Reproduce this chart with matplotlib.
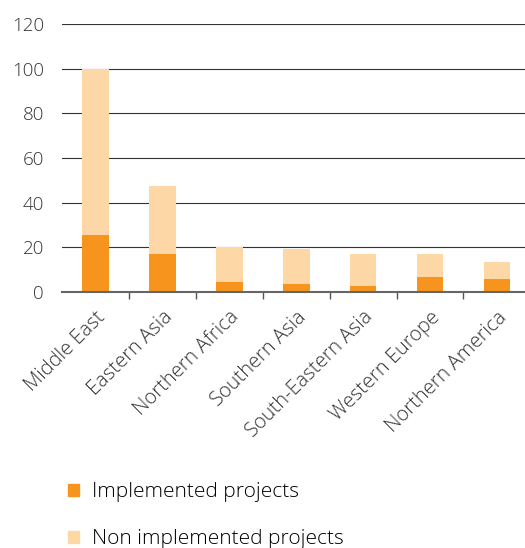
import matplotlib
matplotlib.use("Agg")
import matplotlib.pyplot as plt
from matplotlib.patches import Patch
import numpy as np

regions = [
    "Middle East", "Eastern Asia", "Northern Africa", "Southern Asia",
    "South-Eastern Asia", "Western Europe", "Northern America"
]
implemented = [25.7, 17.0, 4.6, 3.7, 2.8, 6.7, 5.7]
non_implemented = [74.3, 30.6, 15.7, 15.4, 14.4, 10.5, 7.7]
y_ticks = [0, 20, 40, 60, 80, 100, 120]

impl_color = "#F7941D"
non_color = "#FDD7A5"

plt.rcParams["font.family"] = ["Open Sans", "DejaVu Sans"]

fig = plt.figure(figsize=(5.25, 5.48), dpi=100)
ax = fig.add_axes([0.118, 0.467, 0.882, 0.489])

x = np.arange(len(regions))
ax.bar(x, implemented, width=0.4, color=impl_color, zorder=3)
ax.bar(x, non_implemented, width=0.4, bottom=implemented, color=non_color, zorder=3)

ax.set_ylim(0, 120)
ax.set_xlim(-0.5, 6.42)
ax.set_yticks(y_ticks)
ax.set_yticklabels([str(v) for v in y_ticks], fontsize=13.5, fontweight="light", color="#333333")
ax.tick_params(axis="y", length=0, pad=13)

ax.set_xticks(x)
ax.set_xticklabels(regions, rotation=45, ha="right", rotation_mode="anchor",
                   fontsize=14.5, fontweight="light", color="#333333")
ax.tick_params(axis="x", which="major", length=0, pad=11)
ax.set_xticks(np.arange(0.5, 6, 1), minor=True)
ax.tick_params(axis="x", which="minor", length=5, width=1, color="#555555")

for v in y_ticks[1:]:
    ax.axhline(v, color="#333333", lw=0.8, zorder=1)

for s in ["top", "right", "left"]:
    ax.spines[s].set_visible(False)
ax.spines["bottom"].set_color("#666666")
ax.spines["bottom"].set_linewidth(1.5)
ax.spines["bottom"].set_zorder(4)

handles = [Patch(color=impl_color, label="Implemented projects"),
           Patch(color=non_color, label="Non implemented projects")]
fig.legend(handles=handles, loc="upper left", bbox_to_anchor=(0.113, 0.135),
           frameon=False, prop={"weight": "light", "size": 15},
           handlelength=0.55, handleheight=0.55, handletextpad=0.6,
           labelspacing=1.3, borderaxespad=0)

fig.savefig("out.png", dpi=100)
